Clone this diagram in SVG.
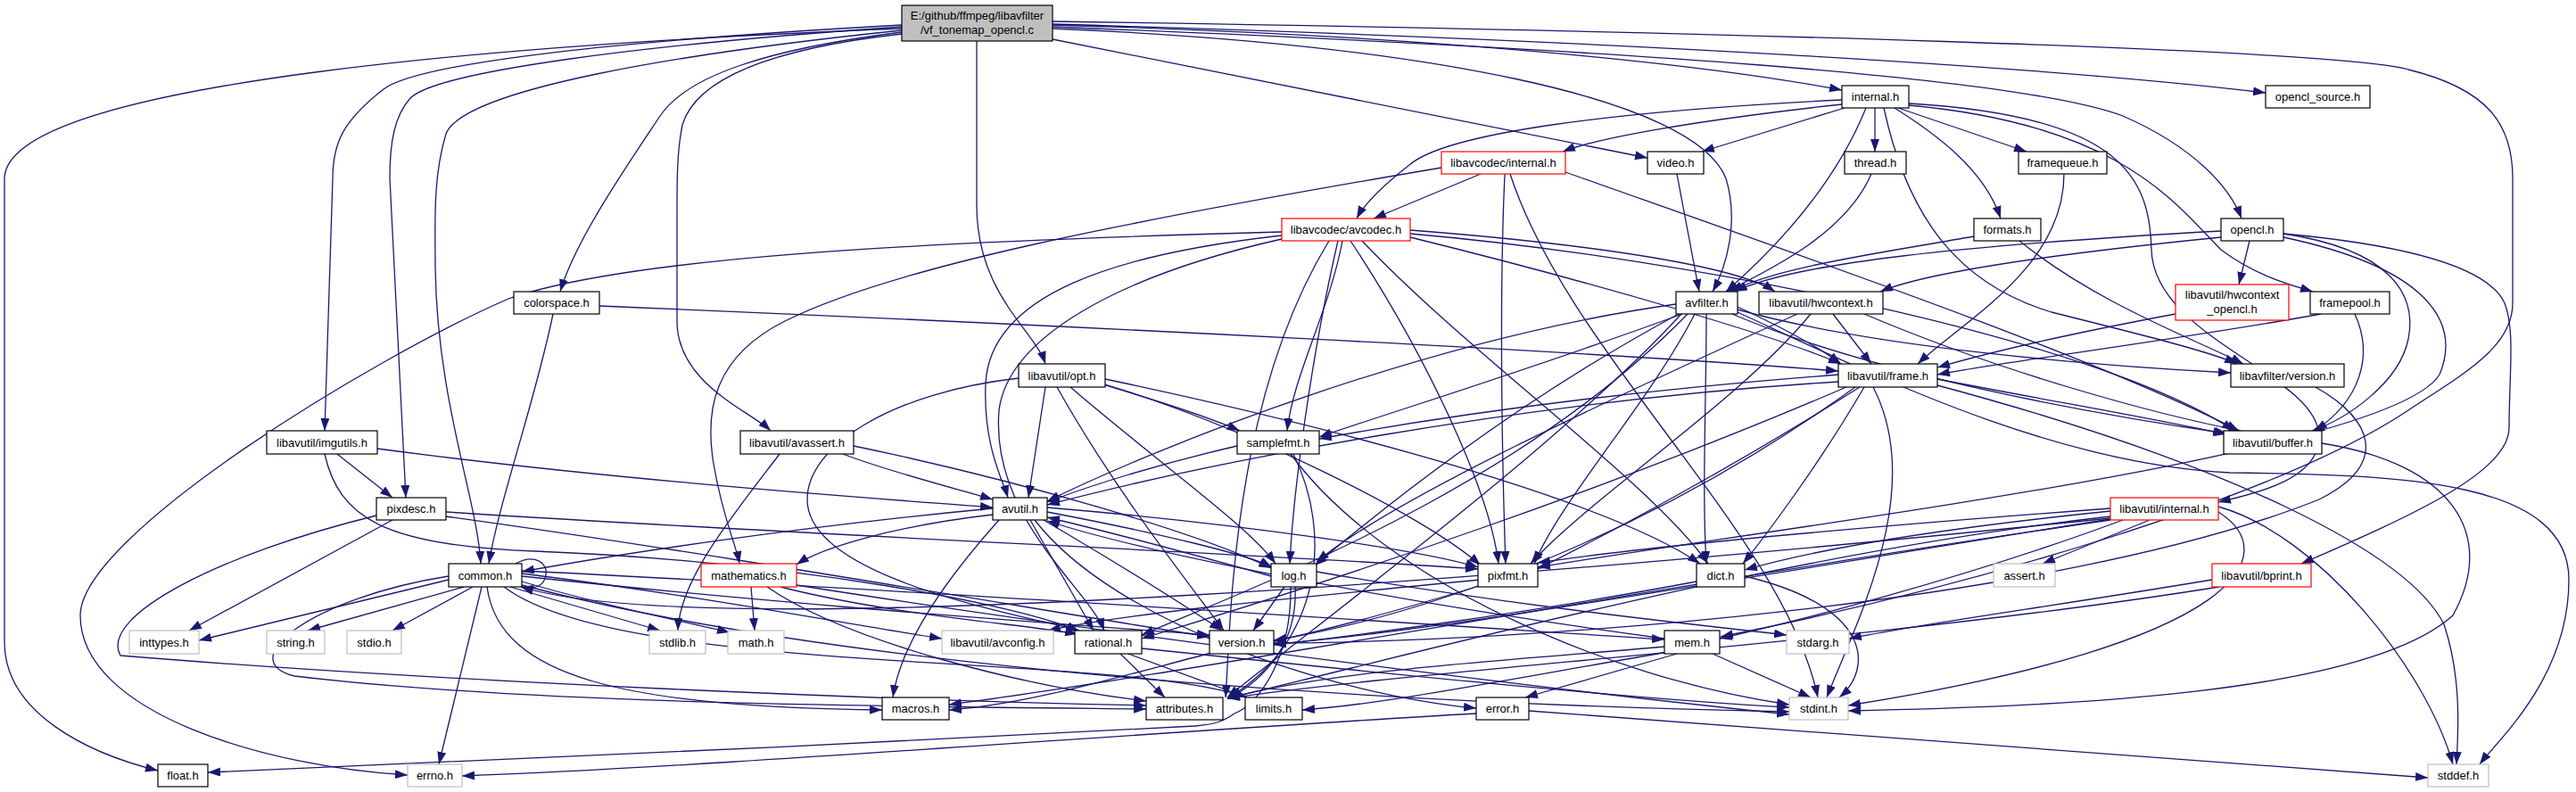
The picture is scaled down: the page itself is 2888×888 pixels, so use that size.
<svg xmlns="http://www.w3.org/2000/svg" width="2888" height="888" viewBox="0 0 2888 888">
<style>
.node rect{fill:#ffffff;stroke:#000000;stroke-width:1.2}
.red rect{stroke:#ff0000}
.grey rect{stroke:#bfbfbf}
.src rect{fill:#bfbfbf}
text{font-family:"Liberation Sans",Arial,sans-serif;font-size:13px;text-anchor:middle;fill:#000000}
.edges path{fill:none;stroke:#191970;stroke-width:1.3;marker-end:url(#a)}
</style>
<defs>
<marker id="a" markerUnits="userSpaceOnUse" markerWidth="14" markerHeight="10" refX="14" refY="5" orient="auto" viewBox="0 0 14 10"><path d="M0,0 L14,5 L0,10 z" fill="#191970"/></marker>
</defs>
<rect x="0" y="0" width="2888" height="888" fill="#ffffff"/>
<g class="edges" id="edges">
<path d="M1011,32 C600,48 8,90 5,200 L5,720 C5,800 100,845 177,864"/>
<path d="M1011,28 C700,45 470,70 430,100 C385,135 373,160 373,200 L364,483"/>
<path d="M1011,30 C720,50 490,80 460,110 C442,130 437,160 437,200 L455,558"/>
<path d="M1011,34 C760,60 520,100 500,150 C485,200 488,250 488,300 C490,450 535,560 539,632"/>
<path d="M1011,36 C860,55 770,85 740,130 C700,190 645,270 628,327"/>
<path d="M1011,38 C860,55 780,90 765,140 C759,170 759,200 759,240 L759,360 C759,430 840,460 864,483"/>
<path d="M1095,46 L1095,230 C1095,330 1160,370 1172,408"/>
<path d="M1180,44 L1847,177"/>
<path d="M1180,32 C1600,50 1900,110 1935,200 C1950,250 1935,300 1920,327"/>
<path d="M1180,28 C1600,40 1900,70 2065,101"/>
<path d="M1180,27 C1800,45 2300,75 2540,104"/>
<path d="M1180,30 C1800,55 2260,85 2380,130 C2460,165 2500,210 2513,245"/>
<path d="M1180,24 C1900,35 2620,55 2700,78 C2790,100 2817,140 2817,200 L2817,340 C2817,390 2760,420 2700,460 C2550,560 2200,660 1929,714"/>
<path d="M2560,262 C2700,275 2790,300 2808,340 C2820,370 2813,420 2813,480 C2813,530 2700,580 2580,632"/>
<path d="M2065,117 C1900,135 1790,155 1752,170"/>
<path d="M2068,121 L1908,170"/>
<path d="M2065,112 C1800,125 1620,150 1580,185 C1548,210 1530,228 1521,245"/>
<path d="M2092,121 C2060,200 2000,270 1935,327"/>
<path d="M2102,121 L2102,170"/>
<path d="M2128,121 L2272,170"/>
<path d="M2124,121 C2170,150 2225,190 2243,245"/>
<path d="M2112,121 C2140,250 2200,320 2300,350 C2400,375 2480,395 2508,408"/>
<path d="M2140,118 C2380,140 2440,230 2490,280 C2530,310 2570,320 2593,327"/>
<path d="M2140,116 C2380,130 2410,200 2412,280 C2415,380 2600,420 2600,490 C2600,540 2520,555 2487,563"/>
<path d="M1660,195 L1540,245"/>
<path d="M1616,188 C1250,250 1000,300 880,360 C800,400 790,460 800,520 C810,580 825,610 829,632"/>
<path d="M1687,195 C1680,350 1685,550 1688,632"/>
<path d="M1693,195 C1760,400 2000,600 2038,782"/>
<path d="M1755,193 C2000,280 2350,400 2510,483"/>
<path d="M1437,260 C1000,272 700,290 570,335 C420,400 90,600 90,690 C90,800 300,860 457,869"/>
<path d="M1505,270 C1490,350 1450,420 1443,483"/>
<path d="M1490,270 C1380,450 1380,700 1374,782"/>
<path d="M1437,264 C1250,285 1110,330 1105,430 C1102,500 1125,540 1130,558"/>
<path d="M1581,262 C1900,290 2350,380 2505,483"/>
<path d="M1527,270 C1650,400 1850,540 1915,632"/>
<path d="M1581,266 C1800,320 2000,380 2064,408"/>
<path d="M1581,258 C1800,275 1950,300 1990,327"/>
<path d="M1500,270 C1470,400 1450,550 1446,632"/>
<path d="M1514,270 C1600,400 1670,550 1680,632"/>
<path d="M1437,268 C1250,310 1130,380 1120,460 C1110,580 1220,660 1238,707"/>
<path d="M1880,195 L1905,327"/>
<path d="M2098,195 C2070,260 1990,300 1935,327"/>
<path d="M2213,265 C2100,285 1990,300 1940,327"/>
<path d="M2264,270 C2350,340 2460,380 2515,408"/>
<path d="M2314,195 C2314,300 2200,360 2150,408"/>
<path d="M2490,259 C2200,275 2010,295 1945,327"/>
<path d="M2490,266 C2300,285 2160,305 2108,327"/>
<path d="M2522,270 L2510,319"/>
<path d="M2560,262 C2680,280 2710,330 2700,380 C2690,430 2630,470 2592,483"/>
<path d="M2560,266 C2720,300 2760,360 2735,420 C2680,510 2000,590 1724,636"/>
<path d="M672,343 C1200,365 1800,395 2061,416"/>
<path d="M620,352 C600,450 560,560 548,632"/>
<path d="M1948,350 C2100,420 2300,520 2500,530 C2700,532 2880,540 2880,650 C2880,760 2800,830 2780,857"/>
<path d="M1885,352 C1750,500 1450,720 1376,782"/>
<path d="M1879,341 C1600,380 1300,500 1174,562"/>
<path d="M1942,352 C2100,420 2350,465 2497,486"/>
<path d="M1913,352 C1913,450 1908,550 1913,632"/>
<path d="M1948,344 C2000,368 2040,390 2064,408"/>
<path d="M1882,352 C1700,450 1550,570 1474,634"/>
<path d="M1886,352 C1700,420 1550,465 1479,490"/>
<path d="M1900,352 C1850,450 1750,560 1720,632"/>
<path d="M1892,352 C1700,550 1400,660 1280,712"/>
<path d="M1948,347 C2100,390 2350,410 2501,418"/>
<path d="M2055,352 L2098,408"/>
<path d="M2090,352 C2250,420 2420,465 2512,483"/>
<path d="M2015,352 C1800,450 1560,560 1476,630"/>
<path d="M2030,352 C1950,450 1780,560 1716,632"/>
<path d="M2439,352 C2300,378 2220,398 2172,412"/>
<path d="M2602,352 C2450,380 2250,405 2172,420"/>
<path d="M2640,352 C2662,400 2645,450 2595,483"/>
<path d="M1172,434 L1153,558"/>
<path d="M1200,434 C1300,520 1400,590 1430,632"/>
<path d="M1239,431 C1400,480 1600,580 1660,634"/>
<path d="M1239,425 C1500,480 1800,560 1906,632"/>
<path d="M1142,424 C1000,440 905,500 905,560 C905,650 1150,690 1210,707"/>
<path d="M1239,432 C1300,450 1360,470 1390,483"/>
<path d="M1185,434 C1250,550 1330,650 1372,707"/>
<path d="M2061,428 C1700,450 1350,520 1174,566"/>
<path d="M2172,425 C2300,450 2420,470 2495,487"/>
<path d="M2090,434 C2040,520 1980,600 1954,632"/>
<path d="M2070,434 C1800,550 1500,650 1280,716"/>
<path d="M2061,420 C1800,440 1600,470 1479,492"/>
<path d="M2085,434 C1950,520 1800,600 1724,638"/>
<path d="M2080,434 C1850,600 1600,690 1428,718"/>
<path d="M2172,432 C2500,520 2700,620 2740,700 C2760,760 2756,820 2754,857"/>
<path d="M2100,434 C2160,550 2080,700 2048,782"/>
<path d="M2596,434 C2660,470 2680,520 2600,560 C2300,680 1700,720 1428,721"/>
<path d="M378,509 L440,558"/>
<path d="M423,503 C700,540 1000,560 1113,569"/>
<path d="M364,509 C380,580 430,612 600,618 C900,630 1150,680 1210,708"/>
<path d="M874,509 C820,580 762,650 760,707"/>
<path d="M945,509 C1000,530 1080,550 1113,560"/>
<path d="M957,500 C1150,540 1350,600 1425,637"/>
<path d="M1387,500 C1300,520 1220,545 1174,563"/>
<path d="M1450,509 C1495,600 1480,720 1378,782"/>
<path d="M1447,509 C1550,650 1800,760 2006,790"/>
<path d="M2603,497 C2750,520 2800,600 2750,690 C2650,780 2300,792 2072,797"/>
<path d="M440,583 L212,707"/>
<path d="M422,578 C250,620 110,690 135,735 C500,765 1000,785 1285,791"/>
<path d="M500,574 C900,600 1400,620 1657,638"/>
<path d="M500,579 C800,620 1200,690 1356,714"/>
<path d="M1113,570 C900,590 700,620 585,641"/>
<path d="M1160,583 C1250,700 1500,780 1655,794"/>
<path d="M1155,583 L1226,707"/>
<path d="M1170,583 C1250,630 1330,680 1370,707"/>
<path d="M1120,583 C1060,650 1010,720 1001,782"/>
<path d="M1113,577 C1000,590 920,615 893,633"/>
<path d="M1174,574 C1300,598 1400,622 1426,636"/>
<path d="M1174,569 C1400,588 1600,618 1657,636"/>
<path d="M1425,646 C1350,625 1250,598 1174,580"/>
<path d="M1866,716 C1600,680 1300,625 1174,584"/>
<path d="M503,650 L223,718"/>
<path d="M520,658 L345,707"/>
<path d="M530,658 L440,707"/>
<path d="M572,658 L740,707"/>
<path d="M585,652 C680,680 780,700 818,709"/>
<path d="M540,658 L492,857"/>
<path d="M546,658 C560,760 700,792 989,796"/>
<path d="M503,646 C350,670 260,740 330,758 C600,790 1000,792 1285,795"/>
<path d="M565,658 C700,760 1250,730 1398,782"/>
<path d="M585,656 C1000,765 1700,792 2006,798"/>
<path d="M585,646 C900,680 1200,700 1356,712"/>
<path d="M585,643 C800,670 950,700 1056,716"/>
<path d="M585,640 C1000,660 1600,700 1866,717"/>
<path d="M578,632 C600,620 615,632 612,645 C610,658 598,661 584,658"/>
<path d="M2366,581 C1800,640 800,725 584,658"/>
<path d="M842,658 L846,707"/>
<path d="M893,656 C1300,720 1800,780 2006,801"/>
<path d="M860,658 C950,720 1150,770 1285,786"/>
<path d="M875,658 C1000,690 1150,700 1208,711"/>
<path d="M1452,658 C1455,720 1420,760 1378,783"/>
<path d="M1440,658 L1405,707"/>
<path d="M1476,641 C1700,680 1900,700 2003,712"/>
<path d="M1447,658 C1448,740 1410,790 1384,800 C1370,810 1360,812 1340,814 C1000,832 500,856 233,866"/>
<path d="M1660,650 C1400,675 1250,690 1175,707"/>
<path d="M1665,655 C1550,690 1470,710 1428,719"/>
<path d="M1956,646 C2100,680 2100,750 2062,782"/>
<path d="M1902,652 C1700,690 1500,715 1428,723"/>
<path d="M1866,725 C1700,740 1500,750 1376,783"/>
<path d="M1880,733 L1710,782"/>
<path d="M1870,731 C1700,760 1550,790 1460,796"/>
<path d="M1920,733 L2030,782"/>
<path d="M1256,733 L1306,782"/>
<path d="M1265,733 L1398,782"/>
<path d="M1280,727 C1600,760 1850,785 2006,793"/>
<path d="M1362,731 C1250,760 1150,790 1064,796"/>
<path d="M1655,800 C1300,820 800,860 518,870"/>
<path d="M1714,797 L2722,872"/>
<path d="M2410,583 L2290,632"/>
<path d="M2366,579 C2000,620 1600,730 1376,783"/>
<path d="M2366,573 C2200,590 2050,612 1956,639"/>
<path d="M2380,583 C2200,650 2000,700 1928,716"/>
<path d="M2366,570 C2100,590 1850,612 1724,631"/>
<path d="M2366,582 C2000,640 1600,710 1428,722"/>
<path d="M2487,574 C2560,620 2520,720 2072,791"/>
<path d="M2487,568 C2600,600 2720,750 2750,857"/>
<path d="M2366,583 C1900,650 1300,760 1064,790"/>
<path d="M2480,650 C2300,680 2150,700 2073,716"/>
<path d="M2488,658 C2100,720 1600,750 1376,783"/>
</g>
<g id="n_src" class="node src"><rect x="1011" y="6" width="169" height="40"/><text x="1095.5" y="22">E:/github/ffmpeg/libavfilter</text><text x="1095.5" y="38">/vf_tonemap_opencl.c</text></g>
<g id="n_internal" class="node"><rect x="2065" y="96" width="75" height="25"/><text x="2102.5" y="113">internal.h</text></g>
<g id="n_opencl_source" class="node"><rect x="2540" y="96" width="117" height="25"/><text x="2598.5" y="113">opencl_source.h</text></g>
<g id="n_lc_internal" class="node red"><rect x="1616" y="170" width="139" height="25"/><text x="1685.5" y="187">libavcodec/internal.h</text></g>
<g id="n_video" class="node"><rect x="1847" y="170" width="63" height="25"/><text x="1878.5" y="187">video.h</text></g>
<g id="n_thread" class="node"><rect x="2068" y="170" width="69" height="25"/><text x="2102.5" y="187">thread.h</text></g>
<g id="n_framequeue" class="node"><rect x="2263" y="170" width="99" height="25"/><text x="2312.5" y="187">framequeue.h</text></g>
<g id="n_avcodec" class="node red"><rect x="1437" y="245" width="144" height="25"/><text x="1509" y="262">libavcodec/avcodec.h</text></g>
<g id="n_formats" class="node"><rect x="2213" y="245" width="75" height="25"/><text x="2250.5" y="262">formats.h</text></g>
<g id="n_opencl" class="node"><rect x="2490" y="245" width="70" height="25"/><text x="2525" y="262">opencl.h</text></g>
<g id="n_colorspace" class="node"><rect x="576" y="327" width="96" height="25"/><text x="624" y="344">colorspace.h</text></g>
<g id="n_avfilter" class="node"><rect x="1879" y="327" width="69" height="25"/><text x="1913.5" y="344">avfilter.h</text></g>
<g id="n_hwcontext" class="node"><rect x="1972" y="327" width="139" height="25"/><text x="2041.5" y="344">libavutil/hwcontext.h</text></g>
<g id="n_hwcontext_opencl" class="node red"><rect x="2439" y="319" width="127" height="40"/><text x="2502.5" y="335">libavutil/hwcontext</text><text x="2502.5" y="351">_opencl.h</text></g>
<g id="n_framepool" class="node"><rect x="2590" y="327" width="89" height="25"/><text x="2634.5" y="344">framepool.h</text></g>
<g id="n_opt" class="node"><rect x="1142" y="408" width="97" height="26"/><text x="1190.5" y="426">libavutil/opt.h</text></g>
<g id="n_frame" class="node"><rect x="2061" y="408" width="111" height="26"/><text x="2116.5" y="426">libavutil/frame.h</text></g>
<g id="n_lfversion" class="node"><rect x="2501" y="408" width="127" height="26"/><text x="2564.5" y="426">libavfilter/version.h</text></g>
<g id="n_imgutils" class="node"><rect x="299" y="483" width="124" height="26"/><text x="361" y="501">libavutil/imgutils.h</text></g>
<g id="n_avassert" class="node"><rect x="830" y="483" width="127" height="26"/><text x="893.5" y="501">libavutil/avassert.h</text></g>
<g id="n_samplefmt" class="node"><rect x="1387" y="483" width="92" height="26"/><text x="1433" y="501">samplefmt.h</text></g>
<g id="n_buffer" class="node"><rect x="2493" y="483" width="110" height="26"/><text x="2548" y="501">libavutil/buffer.h</text></g>
<g id="n_pixdesc" class="node"><rect x="422" y="558" width="78" height="25"/><text x="461" y="575">pixdesc.h</text></g>
<g id="n_avutil" class="node"><rect x="1113" y="558" width="61" height="25"/><text x="1143.5" y="575">avutil.h</text></g>
<g id="n_lu_internal" class="node red"><rect x="2366" y="558" width="121" height="25"/><text x="2426.5" y="575">libavutil/internal.h</text></g>
<g id="n_common" class="node"><rect x="503" y="632" width="82" height="26"/><text x="544" y="650">common.h</text></g>
<g id="n_mathematics" class="node red"><rect x="786" y="632" width="107" height="26"/><text x="839.5" y="650">mathematics.h</text></g>
<g id="n_log" class="node"><rect x="1425" y="632" width="51" height="26"/><text x="1450.5" y="650">log.h</text></g>
<g id="n_pixfmt" class="node"><rect x="1657" y="632" width="67" height="26"/><text x="1690.5" y="650">pixfmt.h</text></g>
<g id="n_dict" class="node"><rect x="1902" y="632" width="54" height="26"/><text x="1929" y="650">dict.h</text></g>
<g id="n_assert" class="node grey"><rect x="2235" y="632" width="69" height="26"/><text x="2269.5" y="650">assert.h</text></g>
<g id="n_bprint" class="node red"><rect x="2480" y="632" width="111" height="26"/><text x="2535.5" y="650">libavutil/bprint.h</text></g>
<g id="n_inttypes" class="node grey"><rect x="145" y="707" width="78" height="26"/><text x="184" y="725">inttypes.h</text></g>
<g id="n_string" class="node grey"><rect x="299" y="707" width="65" height="26"/><text x="331.5" y="725">string.h</text></g>
<g id="n_stdio" class="node grey"><rect x="389" y="707" width="61" height="26"/><text x="419.5" y="725">stdio.h</text></g>
<g id="n_stdlib" class="node grey"><rect x="728" y="707" width="63" height="26"/><text x="759.5" y="725">stdlib.h</text></g>
<g id="n_math" class="node grey"><rect x="816" y="707" width="63" height="26"/><text x="847.5" y="725">math.h</text></g>
<g id="n_avconfig" class="node grey"><rect x="1056" y="707" width="125" height="26"/><text x="1118.5" y="725">libavutil/avconfig.h</text></g>
<g id="n_rational" class="node"><rect x="1205" y="707" width="75" height="26"/><text x="1242.5" y="725">rational.h</text></g>
<g id="n_version" class="node"><rect x="1356" y="707" width="72" height="26"/><text x="1392" y="725">version.h</text></g>
<g id="n_mem" class="node"><rect x="1866" y="707" width="62" height="26"/><text x="1897" y="725">mem.h</text></g>
<g id="n_stdarg" class="node grey"><rect x="2003" y="707" width="70" height="26"/><text x="2038" y="725">stdarg.h</text></g>
<g id="n_macros" class="node"><rect x="989" y="782" width="75" height="25"/><text x="1026.5" y="799">macros.h</text></g>
<g id="n_attributes" class="node"><rect x="1285" y="782" width="86" height="25"/><text x="1328" y="799">attributes.h</text></g>
<g id="n_limits" class="node"><rect x="1396" y="782" width="64" height="25"/><text x="1428" y="799">limits.h</text></g>
<g id="n_error" class="node"><rect x="1655" y="782" width="59" height="25"/><text x="1684.5" y="799">error.h</text></g>
<g id="n_stdint" class="node grey"><rect x="2006" y="782" width="66" height="25"/><text x="2039" y="799">stdint.h</text></g>
<g id="n_float" class="node"><rect x="177" y="857" width="56" height="25"/><text x="205" y="874">float.h</text></g>
<g id="n_errno" class="node grey"><rect x="457" y="857" width="61" height="25"/><text x="487.5" y="874">errno.h</text></g>
<g id="n_stddef" class="node grey"><rect x="2722" y="857" width="68" height="25"/><text x="2756" y="874">stddef.h</text></g>
</svg>
